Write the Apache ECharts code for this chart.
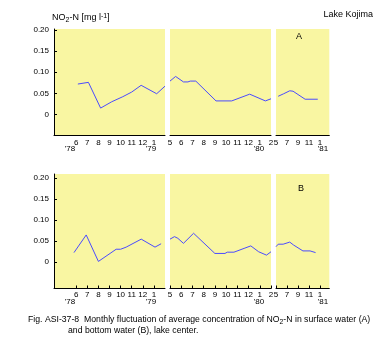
<!DOCTYPE html>
<html><head><meta charset="utf-8">
<script src="https://cdn.jsdelivr.net/npm/echarts@6/dist/echarts.min.js"></script>
<style>html,body{margin:0;padding:0;background:#fff}#c{width:386px;height:340px}</style>
</head><body><div id="c"></div>
<script>
// x values are months counted from Jan 1978 = 1 (Jun 1978 = 6, Jan 1979 = 13 ...)
const surfaceA1 = [[6.15,0.072],[7.1,0.076],[8.2,0.015],[9.2,0.030],[10.2,0.042],[11.0,0.053],[11.85,0.069],[13.25,0.049],[14.0,0.067]];
const surfaceA2 = [[17.0,0.079],[17.5,0.090],[18.2,0.077],[18.6,0.077],[18.8,0.079],[19.3,0.079],[21.1,0.032],[22.5,0.032],[24.1,0.048],[25.5,0.032],[26.0,0.037]];
const surfaceA3 = [[29.4,0.043],[30.4,0.049],[31.5,0.056],[32.1,0.055],[34.3,0.036],[36.6,0.036]];
const bottomB1 = [[5.8,0.023],[6.9,0.065],[8.0,0.002],[9.05,0.021],[9.6,0.031],[10.0,0.031],[10.5,0.036],[11.86,0.055],[13.1,0.036],[13.65,0.044]];
const bottomB2 = [[17.0,0.055],[17.4,0.061],[17.7,0.057],[18.2,0.045],[19.1,0.069],[21.0,0.021],[21.9,0.021],[22.1,0.024],[22.7,0.024],[23.6,0.033],[24.2,0.039],[24.9,0.025],[25.6,0.017],[26.0,0.025]];
const bottomB3 = [[29.0,0.037],[29.4,0.043],[30.3,0.043],[31.5,0.048],[32.2,0.041],[33.9,0.027],[35.2,0.027],[36.2,0.023]];
const yTicks = [0, 0.05, 0.10, 0.15, 0.20];
const yTickLabels = ['0', '0.05', '0.10', '0.15', '0.20'];
const monthTicks1 = [6,7,8,9,10,11,12,13];
const monthTicks2 = [17,18,19,20,21,22,23,24,25,26];
const monthTicks3 = [29,31,33,35,37];
const xRanges = [[4,14],[17,26],[29,38.7]];
const yearLabels = ["'78","'79","'80","'81"];

const chart = echarts.init(document.getElementById('c'));
const FONT = 'Liberation Sans, Arial, sans-serif';
const YEL = '#f9f6a2';
const LINE = '#4b4bff';
const gx = [[54,111],[170,101],[276,53.3]];
const rows = [
  {top:29, height:106.5, min:-0.05, max:0.2025, ticks:false, data:[surfaceA1,surfaceA2,surfaceA3]},
  {top:174, height:114.5, min:-0.0624, max:0.21, ticks:true, data:[bottomB1,bottomB2,bottomB3]}
];
const monthTicks = [monthTicks1, monthTicks2, monthTicks3];
const grid=[], xAxis=[], yAxis=[], series=[];
rows.forEach((r,ri)=>{
  gx.forEach((g,gi)=>{
    const idx = grid.length;
    grid.push({left:g[0], width:g[1], top:r.top, height:r.height, show:true, backgroundColor:YEL, borderWidth:0});
    xAxis.push({type:'value', gridIndex:idx, min:xRanges[gi][0], max:xRanges[gi][1],
      axisLine:{show:true, onZero:false, lineStyle:{color:'#000', width:1}},
      axisTick:{show:r.ticks, inside:true, length:3, customValues:monthTicks[gi], lineStyle:{color:'#000'}},
      axisLabel:{customValues:monthTicks[gi], margin: r.ticks?2:3, fontSize:8, color:'#000', fontFamily:FONT,
        formatter:v=>String(((Math.round(v)-1)%12)+1)},
      splitLine:{show:false}});
    yAxis.push({type:'value', gridIndex:idx, min:r.min, max:r.max,
      axisLine:{show:gi===0, lineStyle:{color:'#000', width:1}},
      axisTick:{show:gi===0, inside:true, length:3, customValues:yTicks, lineStyle:{color:'#000'}},
      axisLabel:{show:gi===0, customValues:yTicks, margin:5, fontSize:8, color:'#000', fontFamily:FONT,
        formatter:v=>yTickLabels[yTicks.findIndex(t=>Math.abs(t-v)<1e-6)] ?? ''},
      splitLine:{show:false}});
    series.push({type:'line', xAxisIndex:idx, yAxisIndex:idx, data:r.data[gi], showSymbol:false, symbol:'none',
      lineStyle:{color:LINE, width:1}, itemStyle:{color:LINE}, animation:false});
  });
});
const txt=(text,x,y,opt={})=>({type:'text', x, y, style:Object.assign({text, fill:'#000', font:'8px '+FONT, align:'center', verticalAlign:'middle'}, opt)});
const yearX=[70,151,259,323];
const graphic=[];
[149,301.5].forEach(y=>yearX.forEach((x,i)=>graphic.push(txt(yearLabels[i],x,y))));
graphic.push(txt('A',299,37,{font:'9px '+FONT}));
graphic.push(txt('B',301,189,{font:'9px '+FONT}));
graphic.push(txt('Lake Kojima',373,15,{font:'9px '+FONT, align:'right'}));
graphic.push({type:'text', x:52, y:18, style:{
  text:'{n|NO}{s|2}{n|-N [mg l}{p|-1}{n|]}', fill:'#000', verticalAlign:'middle', align:'left',
  rich:{n:{fontSize:9, fontFamily:FONT, fill:'#000'}, s:{fontSize:7, fontFamily:FONT, padding:[4,0,0,0], fill:'#000'}, p:{fontSize:7, fontFamily:FONT, padding:[0,0,4,0], fill:'#000'}}}});
graphic.push({type:'text', x:28, y:320, style:{
  text:'{n|Fig. ASI-37-8  Monthly fluctuation of average concentration of NO}{s|2}{n|-N in surface water (A)}',
  verticalAlign:'middle', align:'left',
  rich:{n:{fontSize:8.7, fontFamily:FONT, fill:'#000'}, s:{fontSize:6.8, fontFamily:FONT, padding:[4,0,0,0], fill:'#000'}}}});
graphic.push(txt('and bottom water (B), lake center.',68,330.5,{font:'8.7px '+FONT, align:'left'}));

chart.setOption({animation:false, backgroundColor:'#fff', grid, xAxis, yAxis, series, graphic});
</script></body></html>
